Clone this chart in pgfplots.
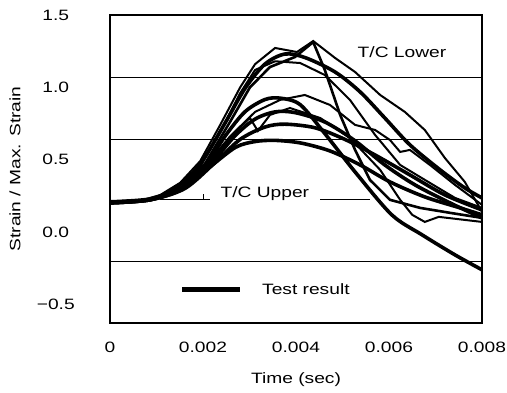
\documentclass[border=0pt]{standalone}
\usepackage{pgfplots}
\pgfplotsset{compat=1.18}
\usepackage{fontspec}
\setmainfont{Liberation Sans}[FakeStretch=1.28]
\begin{document}
\fontsize{15}{18}\selectfont
\begin{tikzpicture}
\path[use as bounding box] (-110pt,-69pt) rectangle (397pt,323pt);
\begin{axis}[
  scale only axis, width=372pt, height=308pt,
  xmin=0, xmax=0.008, ymin=-0.63, ymax=1.5,
  axis line style={line width=1.6pt},
  xtick={0,0.002,0.004,0.006,0.008},
  xticklabels={0,0.002,0.004,0.006,0.008},
  scaled x ticks=false,
  ytick={-0.5,0,0.5,1,1.5},
  yticklabels={−0.5,0.0,0.5,1.0,1.5},
  major tick length=0pt,
  xticklabel style={yshift=-14pt},
  yticklabel style={text width=40pt, align=center, xshift=-29pt},
  xlabel={Time (sec)},
  xlabel style={at={(axis description cs:0.5,-0.185)}, anchor=center},
  ylabel={Strain / Max. Strain},
  ylabel style={at={(axis description cs:-0.255,0.5)}, anchor=center},
  clip=false,
]
% reference lines
\addplot[black, line width=0.8pt] coordinates {(0,1.07)(0.008,1.07)};
\addplot[black, line width=0.8pt] coordinates {(0,0.64)(0.008,0.64)};
\addplot[black, line width=0.8pt] coordinates {(0,-0.207)(0.008,-0.207)};
\addplot[black, line width=0.8pt] coordinates {(0.00108,0.225)(0.00215,0.225)};
\addplot[black, line width=0.8pt] coordinates {(0.002,0.225)(0.002,0.265)};
\addplot[black, line width=0.8pt] coordinates {(0.00452,0.225)(0.00559,0.225)};
% thick curves (test results)
\addplot[black, line width=3.6pt, smooth] coordinates {(0,0.201)(0.00086,0.222)(0.00151,0.291)(0.00215,0.450)(0.0027,0.585)(0.00312,0.625)(0.00355,0.633)(0.0041,0.615)(0.00473,0.560)(0.00538,0.463)(0.00602,0.346)(0.00677,0.242)(0.00753,0.166)(0.008,0.118)};
\addplot[black, line width=3.6pt, smooth] coordinates {(0,0.201)(0.00086,0.222)(0.00151,0.300)(0.00204,0.450)(0.00247,0.660)(0.0029,0.830)(0.00333,0.915)(0.00366,0.925)(0.00409,0.880)(0.00462,0.680)(0.00527,0.415)(0.00606,0.118)(0.00671,-0.020)(0.00742,-0.159)(0.008,-0.262)};
\addplot[black, line width=3.6pt, smooth] coordinates {(0,0.201)(0.00086,0.222)(0.00161,0.310)(0.00215,0.463)(0.00269,0.665)(0.00312,0.780)(0.00355,0.830)(0.00398,0.825)(0.00462,0.760)(0.00527,0.630)(0.00591,0.463)(0.00656,0.325)(0.00731,0.201)(0.008,0.097)};
\addplot[black, line width=3.6pt, smooth] coordinates {(0,0.201)(0.00086,0.222)(0.00161,0.300)(0.00226,0.480)(0.0028,0.640)(0.00333,0.725)(0.00376,0.745)(0.00441,0.720)(0.00505,0.640)(0.0057,0.532)(0.00645,0.394)(0.0072,0.256)(0.008,0.152)};
\addplot[black, line width=3.6pt, smooth] coordinates {(0,0.208)(0.00086,0.228)(0.0014,0.300)(0.00194,0.470)(0.00247,0.750)(0.0029,0.990)(0.00333,1.160)(0.00376,1.230)(0.0042,1.205)(0.00484,1.106)(0.00538,0.968)(0.00591,0.788)(0.00645,0.602)(0.0071,0.429)(0.00763,0.304)(0.008,0.235)};
% thinner curves
\addplot[black, line width=2.6pt] coordinates {(0,0.208)(0.00086,0.222)(0.00151,0.300)(0.00204,0.470)(0.00258,0.760)(0.00301,1.000)(0.00344,1.140)(0.00398,1.210)(0.00437,1.313)(0.00462,1.120)(0.00495,0.809)(0.00527,0.567)(0.00559,0.360)(0.00602,0.222)(0.00667,0.166)(0.00731,0.132)(0.008,0.097)};
\addplot[black, line width=2pt] coordinates {(0,0.208)(0.000645,0.215)(0.00108,0.255)(0.00151,0.340)(0.00194,0.490)(0.00237,0.740)(0.0028,1.000)(0.00312,1.160)(0.00355,1.272)(0.00402,1.244)(0.00437,1.320)(0.00484,1.203)(0.00527,1.106)(0.00581,0.947)(0.00634,0.830)(0.00677,0.705)(0.0072,0.512)(0.00763,0.346)(0.008,0.139)};
\addplot[black, line width=2pt] coordinates {(0,0.208)(0.00086,0.222)(0.0014,0.300)(0.00194,0.450)(0.00237,0.690)(0.0028,0.960)(0.00312,1.120)(0.00355,1.180)(0.00409,1.168)(0.00462,1.085)(0.00516,0.913)(0.0057,0.671)(0.00624,0.463)(0.00677,0.360)(0.00742,0.235)(0.008,0.166)};
\addplot[black, line width=2pt] coordinates {(0,0.208)(0.00086,0.222)(0.00161,0.310)(0.00215,0.480)(0.00269,0.690)(0.00301,0.788)(0.00318,0.698)(0.00344,0.809)(0.00387,0.857)(0.00452,0.788)(0.00516,0.650)(0.00581,0.429)(0.00624,0.222)(0.00650,0.118)(0.00677,0.069)(0.00707,0.104)(0.008,0.069)};
\addplot[black, line width=2pt] coordinates {(0,0.208)(0.00086,0.222)(0.00151,0.300)(0.00204,0.450)(0.00258,0.660)(0.00312,0.830)(0.00366,0.913)(0.00419,0.947)(0.00473,0.878)(0.00527,0.740)(0.0057,0.705)(0.00602,0.636)(0.00624,0.553)(0.00645,0.567)(0.00688,0.463)(0.00742,0.325)(0.008,0.187)};
% legend
\addplot[black, line width=5pt] coordinates {(0.00155,-0.40)(0.0028,-0.40)};
\node[anchor=base west] at (axis cs:0.00316,-0.435) {Test result};
\node[anchor=base] at (axis cs:0.00628,1.203) {T/C Lower};
\node[anchor=base] at (axis cs:0.00333,0.235) {T/C Upper};
\end{axis}
\end{tikzpicture}
\end{document}
